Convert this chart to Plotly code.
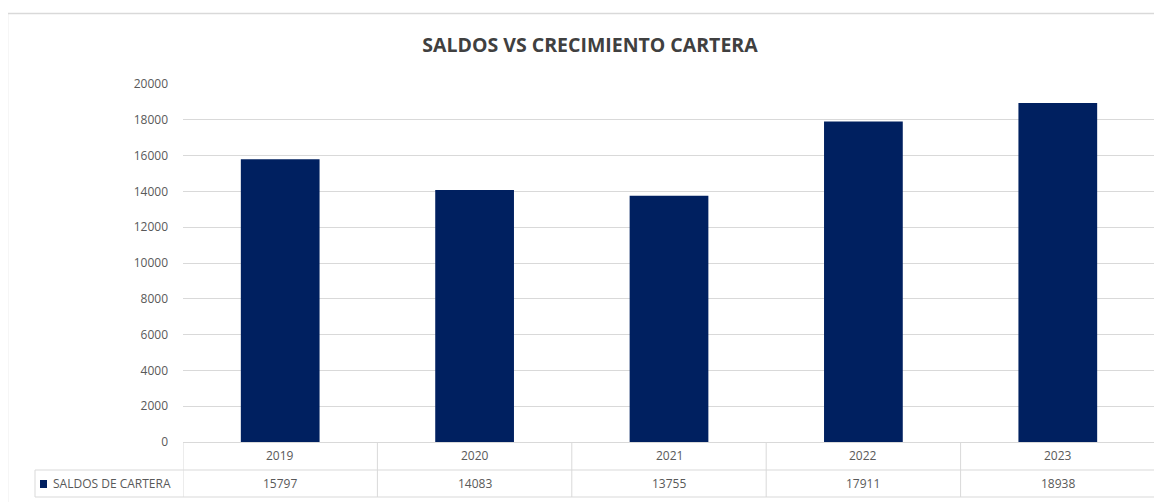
import plotly.graph_objects as go

years = ["2019", "2020", "2021", "2022", "2023"]
saldos = [15797, 14083, 13755, 17911, 18938]
series_name = "SALDOS DE CARTERA"
title_text = "SALDOS VS CRECIMIENTO CARTERA"
y_ticks = list(range(0, 20001, 2000))

OFF = 8  # page body margin
W, H = 1154, 494
L, T = 183 - OFF, 84 - OFF
R = W - (1155 - OFF)
B = H - (442 - OFF)
plot_h = H - T - B
plot_w = W - L - R

def py(pix):  # page pixel y -> paper y
    return (H - B - (pix - OFF)) / plot_h

def px(pix):  # page pixel x -> paper x
    return (pix - OFF - L) / plot_w

grid = "#d9d9d9"
txt = "#595959"
font_fam = "Open Sans, Noto Sans, sans-serif"

fig = go.Figure(go.Bar(x=list(range(len(years))), y=saldos, marker_color="#002060",
                       marker_line_width=0, name=series_name, showlegend=False))

shapes = []
annotations = []
row1_top, row1_bot, row2_bot = py(442), py(470), py(497)
n = len(years)
for yy in (row1_bot, row2_bot):
    shapes.append(dict(type="line", xref="x", yref="paper", x0=-0.5, x1=n - 0.5, y0=yy, y1=yy,
                       line=dict(color=grid, width=1)))
shapes.append(dict(type="line", xref="paper", yref="paper", x0=px(35), x1=0, y0=row1_bot, y1=row1_bot,
                   line=dict(color=grid, width=1)))
shapes.append(dict(type="line", xref="paper", yref="paper", x0=px(35), x1=0, y0=row2_bot, y1=row2_bot,
                   line=dict(color=grid, width=1)))
shapes.append(dict(type="line", xref="paper", yref="paper", x0=px(35), x1=px(35), y0=row1_bot, y1=row2_bot,
                   line=dict(color=grid, width=1)))
for i in range(n + 1):
    shapes.append(dict(type="line", xref="x", yref="paper", x0=i - 0.5, x1=i - 0.5, y0=row1_top, y1=row2_bot,
                       line=dict(color=grid, width=1)))
shapes.append(dict(type="line", xref="paper", yref="paper", x0=1, x1=1, y0=row1_top, y1=row2_bot,
                   line=dict(color=grid, width=1)))
shapes.append(dict(type="rect", xref="paper", yref="paper", x0=px(7.5), x1=px(1185), y0=py(13.5), y1=py(530),
                   line=dict(color="#d9d9d9", width=1.5), fillcolor="rgba(0,0,0,0)", layer="below"))
shapes.append(dict(type="rect", xref="paper", yref="paper", x0=px(40), x1=px(47), y0=py(488), y1=py(480),
                   line=dict(width=0), fillcolor="#002060"))

for i, (yr, v) in enumerate(zip(years, saldos)):
    annotations.append(dict(x=i, y=(row1_top + row1_bot) / 2, xref="x", yref="paper", text=yr,
                            xanchor="center", yanchor="middle",
                            showarrow=False, font=dict(size=12, color=txt, family=font_fam)))
    annotations.append(dict(x=i, y=(row1_bot + row2_bot) / 2, xref="x", yref="paper", text=str(v),
                            xanchor="center", yanchor="middle",
                            showarrow=False, font=dict(size=12, color=txt, family=font_fam)))
annotations.append(dict(x=px(51), y=(row1_bot + row2_bot) / 2, xref="paper", yref="paper",
                        text=series_name, xanchor="left", yanchor="middle", showarrow=False,
                        font=dict(size=12, color=txt, family=font_fam)))

fig.update_layout(
    width=W, height=H,
    margin=dict(l=L, r=R, t=T, b=B),
    paper_bgcolor="white", plot_bgcolor="white",
    title=dict(text="<b>" + title_text + "</b>", x=(590 - OFF) / W, xanchor="center",
               y=1 - (45 - OFF) / H, yanchor="middle",
               font=dict(size=19.5, color="#404040", family=font_fam)),
    bargap=0.595,
    xaxis=dict(range=[-0.5, n - 0.5], showticklabels=False, showgrid=False, zeroline=False,
               showline=True, linecolor=grid, linewidth=1, fixedrange=True),
    yaxis=dict(range=[0, 20000], tickvals=y_ticks, ticktext=[str(v) for v in y_ticks],
               showgrid=True, gridcolor=grid, gridwidth=1,
               zeroline=False, showline=False, ticklabelstandoff=14,
               tickfont=dict(size=12, color=txt, family=font_fam)),
    shapes=shapes, annotations=annotations,
)

fig.write_html("out.html")
